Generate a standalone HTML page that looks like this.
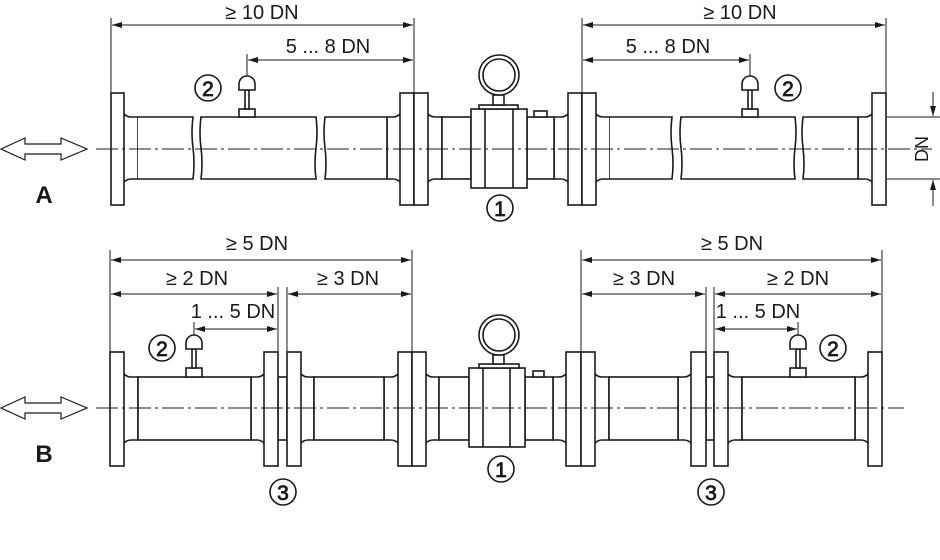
<!DOCTYPE html>
<html><head><meta charset="utf-8"><style>
html,body{margin:0;padding:0;background:#fff;}
svg{display:block;}
text{font-family:"Liberation Sans",sans-serif;fill:#1a1a1a;}
</style></head><body>
<svg width="940" height="560" viewBox="0 0 940 560" xmlns="http://www.w3.org/2000/svg">
<defs>
<marker id="ar" viewBox="0 0 10 6" refX="10" refY="3" markerWidth="11" markerHeight="6" markerUnits="userSpaceOnUse" orient="auto-start-reverse"><path d="M0,0 L10,3 L0,6 Z" fill="#1a1a1a"/></marker>
</defs>
<!-- ROW A geometry -->
<g fill="#fff" stroke="#1a1a1a" stroke-width="1.6">
<path d="M124,114 Q127,117 131,117 L138,117 L138,179 L131,179 Q127,179 124,182"/>
<path d="M428,114 Q431,117 435,117 L442,117 L442,179 L435,179 Q431,179 428,182"/>
<path d="M596,114 Q599,117 603,117 L610,117 L610,179 L603,179 Q599,179 596,182"/>
<path d="M400,114 Q397,117 393,117 L387,117 L387,179 L393,179 Q397,179 400,182"/>
<path d="M568,114 Q565,117 561,117 L554,117 L554,179 L561,179 Q565,179 568,182"/>
<path d="M872,114 Q869,117 865,117 L858,117 L858,179 L865,179 Q869,179 872,182"/>
<path d="M138,117 L193,117 Q191,133 193,148 Q195,164 193,179 L138,179"/>
<path d="M201,117 Q199,133 201,148 Q203,164 201,179 L316,179 Q314,164 316,148 Q318,133 316,117 Z"/>
<path d="M325,117 Q323,133 325,148 Q327,164 325,179 L387,179 L387,117 Z"/>
<rect x="442" y="117" width="29" height="62"/>
<rect x="527" y="117" width="27" height="62"/>
<path d="M610,117 L672,117 Q670,133 672,148 Q674,164 672,179 L610,179"/>
<path d="M681,117 Q679,133 681,148 Q683,164 681,179 L795,179 Q793,164 795,148 Q797,133 795,117 Z"/>
<path d="M803,117 Q801,133 803,148 Q805,164 803,179 L858,179 L858,117 Z"/>
<rect x="111" y="93" width="13" height="112"/>
<rect x="400" y="93" width="14" height="112"/>
<rect x="414" y="93" width="14" height="112"/>
<rect x="568" y="93" width="14" height="112"/>
<rect x="582" y="93" width="14" height="112"/>
<rect x="872" y="93" width="14" height="112"/>
<rect x="534" y="111" width="13" height="6"/>
<rect x="471" y="109" width="56" height="79"/>
<line x1="485" y1="109" x2="485" y2="188"/>
<line x1="513" y1="109" x2="513" y2="188"/>
<rect x="479" y="105" width="39" height="4"/>
<rect x="493" y="95" width="11" height="10"/>
<circle cx="499" cy="75" r="20"/>
<circle cx="499" cy="75" r="16"/>
<rect x="239" y="109" width="16" height="8"/>
<rect x="245" y="90" width="4" height="19"/>
<path d="M239,90 L239,84 A8,8 0 0 1 255,84 L255,90 Z"/>
<rect x="742" y="109" width="16" height="8"/>
<rect x="748" y="90" width="4" height="19"/>
<path d="M742,90 L742,84 A8,8 0 0 1 758,84 L758,90 Z"/>
</g>
<!-- ROW B geometry -->
<g fill="#fff" stroke="#1a1a1a" stroke-width="1.6">
<path d="M124,374 Q127,377 131,377 L138,377 L138,440 L131,440 Q127,440 124,443"/>
<path d="M301,374 Q304,377 308,377 L314,377 L314,440 L308,440 Q304,440 301,443"/>
<path d="M426,374 Q429,377 433,377 L439,377 L439,440 L433,440 Q429,440 426,443"/>
<path d="M595,374 Q598,377 602,377 L609,377 L609,440 L602,440 Q598,440 595,443"/>
<path d="M728,374 Q731,377 735,377 L742,377 L742,440 L735,440 Q731,440 728,443"/>
<path d="M264,374 Q261,377 257,377 L251,377 L251,440 L257,440 Q261,440 264,443"/>
<path d="M398,374 Q395,377 391,377 L384,377 L384,440 L391,440 Q395,440 398,443"/>
<path d="M566,374 Q563,377 559,377 L553,377 L553,440 L559,440 Q563,440 566,443"/>
<path d="M691,374 Q688,377 684,377 L678,377 L678,440 L684,440 Q688,440 691,443"/>
<path d="M868,374 Q865,377 861,377 L855,377 L855,440 L861,440 Q865,440 868,443"/>
<rect x="138" y="377" width="113" height="63"/>
<rect x="314" y="377" width="70" height="63"/>
<rect x="439" y="377" width="30" height="63"/>
<rect x="525" y="377" width="28" height="63"/>
<rect x="609" y="377" width="69" height="63"/>
<rect x="742" y="377" width="113" height="63"/>
<rect x="278" y="377" width="9" height="63"/>
<rect x="706" y="377" width="8" height="63"/>
<rect x="110" y="352" width="14" height="114"/>
<rect x="264" y="352" width="14" height="114"/>
<rect x="287" y="352" width="14" height="114"/>
<rect x="398" y="352" width="14" height="114"/>
<rect x="412" y="352" width="14" height="114"/>
<rect x="566" y="352" width="15" height="114"/>
<rect x="581" y="352" width="14" height="114"/>
<rect x="691" y="352" width="15" height="114"/>
<rect x="714" y="352" width="14" height="114"/>
<rect x="868" y="352" width="14" height="114"/>
<rect x="533" y="371" width="11" height="6"/>
<rect x="469" y="368" width="56" height="79"/>
<line x1="483" y1="368" x2="483" y2="447"/>
<line x1="510" y1="368" x2="510" y2="447"/>
<rect x="479" y="364" width="40" height="4"/>
<rect x="493" y="355" width="11" height="9"/>
<circle cx="499" cy="335" r="20"/>
<circle cx="499" cy="335" r="16"/>
<rect x="186" y="368" width="16" height="9"/>
<rect x="192" y="349" width="4" height="19"/>
<path d="M186,349 L186,343 A8,8 0 0 1 202,343 L202,349 Z"/>
<rect x="790" y="368" width="16" height="9"/>
<rect x="796" y="349" width="4" height="19"/>
<path d="M790,349 L790,343 A8,8 0 0 1 806,343 L806,349 Z"/>
</g>
<!-- centerlines on top -->
<g fill="none" stroke="#1a1a1a" stroke-width="1">
<line x1="96" y1="149" x2="932" y2="149" stroke-dasharray="22,4,3,4"/>
<line x1="96" y1="408" x2="904" y2="408" stroke-dasharray="22,4,3,4"/>
</g>
<!-- dimension lines -->
<g stroke="#1a1a1a" stroke-width="1" fill="none">
<line x1="111" y1="93" x2="111" y2="18"/><line x1="414" y1="93" x2="414" y2="18"/>
<line x1="582" y1="93" x2="582" y2="18"/><line x1="886" y1="93" x2="886" y2="18"/>
<line x1="247" y1="76" x2="247" y2="54"/><line x1="750" y1="76" x2="750" y2="54"/>
<line x1="112" y1="25" x2="413" y2="25" marker-start="url(#ar)" marker-end="url(#ar)"/>
<line x1="583" y1="25" x2="885" y2="25" marker-start="url(#ar)" marker-end="url(#ar)"/>
<line x1="248" y1="60" x2="413" y2="60" marker-start="url(#ar)" marker-end="url(#ar)"/>
<line x1="583" y1="60" x2="749" y2="60" marker-start="url(#ar)" marker-end="url(#ar)"/>
<line x1="887" y1="117" x2="940" y2="117"/><line x1="887" y1="179" x2="940" y2="179"/>
<line x1="933" y1="92" x2="933" y2="116" marker-end="url(#ar)"/>
<line x1="933" y1="206" x2="933" y2="180" marker-end="url(#ar)"/>
<line x1="110" y1="352" x2="110" y2="250"/><line x1="412" y1="352" x2="412" y2="250"/>
<line x1="581" y1="352" x2="581" y2="250"/><line x1="882" y1="352" x2="882" y2="250"/>
<line x1="278" y1="352" x2="278" y2="287"/><line x1="287" y1="352" x2="287" y2="287"/>
<line x1="706" y1="352" x2="706" y2="287"/><line x1="714" y1="352" x2="714" y2="287"/>
<line x1="194" y1="335" x2="194" y2="322"/><line x1="798" y1="335" x2="798" y2="322"/>
<line x1="111" y1="260" x2="411" y2="260" marker-start="url(#ar)" marker-end="url(#ar)"/>
<line x1="582" y1="260" x2="881" y2="260" marker-start="url(#ar)" marker-end="url(#ar)"/>
<line x1="111" y1="294" x2="277" y2="294" marker-start="url(#ar)" marker-end="url(#ar)"/>
<line x1="288" y1="294" x2="411" y2="294" marker-start="url(#ar)" marker-end="url(#ar)"/>
<line x1="582" y1="294" x2="705" y2="294" marker-start="url(#ar)" marker-end="url(#ar)"/>
<line x1="715" y1="294" x2="881" y2="294" marker-start="url(#ar)" marker-end="url(#ar)"/>
<line x1="195" y1="329" x2="277" y2="329" marker-start="url(#ar)" marker-end="url(#ar)"/>
<line x1="715" y1="329" x2="797" y2="329" marker-start="url(#ar)" marker-end="url(#ar)"/>
</g>
<!-- double arrows -->
<g fill="#fff" stroke="#1a1a1a" stroke-width="1.2">
<path d="M1,149 L25,138 L25,144 L61,144 L61,138 L87,149 L61,160 L61,154 L25,154 L25,160 Z"/>
<path d="M1,408 L25,397 L25,403 L61,403 L61,397 L87,408 L61,419 L61,413 L25,413 L25,419 Z"/>
</g>
<!-- circled numbers -->
<g fill="none" stroke="#1a1a1a" stroke-width="1.6">
<circle cx="208" cy="88" r="13"/><circle cx="788" cy="88" r="13"/>
<circle cx="500" cy="208" r="13"/>
<circle cx="162" cy="348" r="13"/><circle cx="833" cy="348" r="13"/>
<circle cx="501" cy="469" r="13"/>
<circle cx="283" cy="492" r="13"/><circle cx="711" cy="492" r="13"/>
</g>
<g font-size="21" text-anchor="middle" stroke="#1a1a1a" stroke-width="0.8">
<text x="208" y="96">2</text><text x="788" y="96">2</text>
<text x="500" y="216">1</text>
<text x="162" y="356">2</text><text x="833" y="356">2</text>
<text x="501" y="477">1</text>
<text x="283" y="500">3</text><text x="711" y="500">3</text>
</g>
<g font-size="20" text-anchor="middle">
<text x="262" y="19">≥ 10 DN</text>
<text x="328" y="53">5 ... 8 DN</text>
<text x="740" y="19">≥ 10 DN</text>
<text x="668" y="53">5 ... 8 DN</text>
<text x="257" y="250">≥ 5 DN</text>
<text x="732" y="250">≥ 5 DN</text>
<text x="197" y="285">≥ 2 DN</text>
<text x="348" y="285">≥ 3 DN</text>
<text x="644" y="285">≥ 3 DN</text>
<text x="798" y="285">≥ 2 DN</text>
<text x="233" y="318">1 ... 5 DN</text>
<text x="758" y="318">1 ... 5 DN</text>
</g>
<text x="0" y="0" font-size="18" text-anchor="middle" transform="translate(928,149) rotate(-90)">DN</text>
<g font-size="24" font-weight="bold" text-anchor="middle">
<text x="44" y="203">A</text>
<text x="44" y="462">B</text>
</g>
</svg>
</body></html>
